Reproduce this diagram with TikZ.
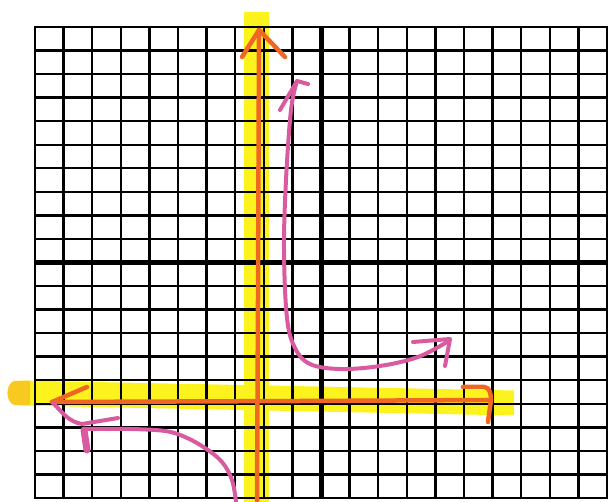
\documentclass[tikz,border=0pt]{standalone}
\definecolor{hlyellow}{RGB}{252,242,30}
\definecolor{hlorange}{RGB}{238,104,36}
\definecolor{hlpink}{RGB}{218,90,160}
\tikzset{
  gridline/.style={black, line width=2.4pt},
  axisline/.style={black, line width=5pt},
  highlight/.style={hlyellow, line width=25pt, line cap=butt},
  orangepen/.style={hlorange, line width=4.5pt, line cap=round, line join=round},
  pinkpen/.style={hlpink, line width=4pt, line cap=round, line join=round},
}
\begin{document}
\begin{tikzpicture}[x=1pt,y=-1pt]
\useasboundingbox (0,0) rectangle (613,502);
% highlighter bands (asymptotes)
\draw[highlight] (256,12) -- (256,502);
\draw[highlight] (20,393) -- (514,403);
\fill[hlorange!30!hlyellow] (30,381) -- (14,381) to[out=200,in=160] (14,405) -- (30,405) -- cycle;
% grid
\foreach \i in {0,...,20} {
  \draw[gridline] ({35+\i*28.6},27) -- ({35+\i*28.6},498);
  \draw[gridline] (35,{27+\i*23.55}) -- (607,{27+\i*23.55});
}
\draw[gridline, line cap=square] (35,27) rectangle (607,498);
% axes
\draw[axisline] (321,27) -- (321,498);
\draw[axisline] (35,262.5) -- (607,262.5);
% orange asymptote lines
\coordinate (vbot) at (257,502);
\coordinate (vtop) at (259,30);
\draw[orangepen] (vbot) -- (258,300) -- (vtop);
\draw[orangepen] (242,57) -- (vtop) -- (285,57);
\coordinate (hleft) at (52,402);
\coordinate (hright) at (491,400);
\draw[orangepen] (hleft) -- (300,401) -- (hright);
\draw[orangepen] (hleft) -- (87,387);
\draw[orangepen] (463,387) -- (484,387) to[out=0,in=90] (hright) -- (488,422);
% pink branch upper right
\coordinate (ptop) at (297,81);
\coordinate (pright) at (447,342);
\draw[pinkpen] plot[smooth, tension=0.6] coordinates {(ptop) (291,110) (286,180) (284,250) (287,318) (295,348) (310,364) (340,369) (380,366) (418,357) (pright)};
\draw[pinkpen] (280,110) -- (ptop) -- (308,84);
\draw[pinkpen] (413,342) -- (450,339) -- (445,366);
% pink branch lower left
\coordinate (pbot) at (236,502);
\coordinate (pleft) at (84,429);
\draw[pinkpen] plot[smooth, tension=0.6] coordinates {(pbot) (232,480) (222,462) (205,448) (185,437) (165,431) (130,429) (pleft)};
\draw[pinkpen] (53,403) to[out=-45,in=170] (82,424) -- (118,418);
\draw[hlpink, line width=7pt, line cap=round] (84,430) -- (87,450);
\end{tikzpicture}
\end{document}
